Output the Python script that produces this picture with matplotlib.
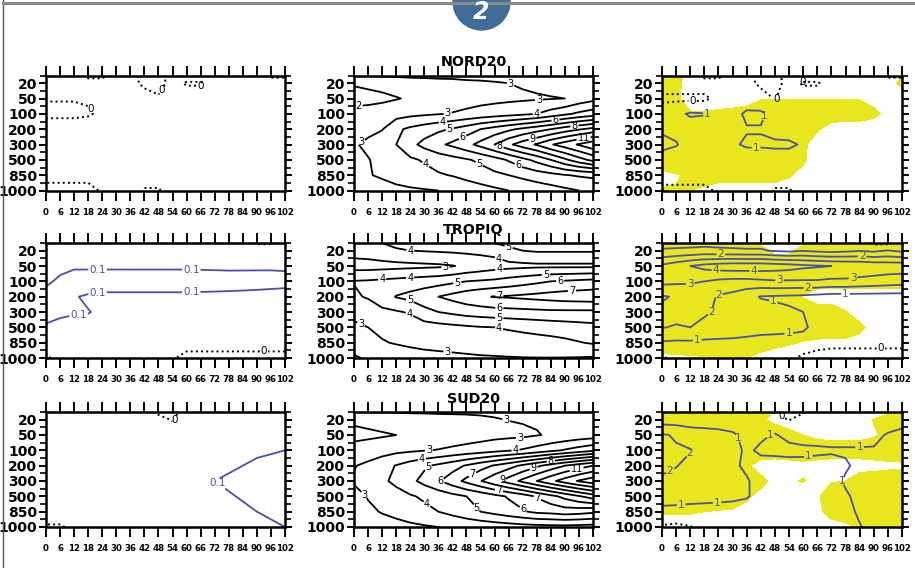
import numpy as np
import matplotlib.pyplot as plt
from matplotlib.patches import Circle
from matplotlib.lines import Line2D

plt.rcParams['font.family'] = ['DejaVu Sans']

# forecast lead time (h) and pressure levels (hPa)
lead = [0, 6, 12, 18, 24, 30, 36, 42, 48, 54, 60, 66, 72, 78, 84, 90, 96, 102]
plev = [20, 50, 100, 200, 300, 500, 850, 1000]
# every field: first row is the model top (half a level above 20 hPa), then plev

# ---- NORD20 ----
nord_l = [
    [0.05, 0.05, 0.05, -0.03, -0.03, 0.05, 0.05, -0.04, -0.04, 0.05, 0.05, 0.05, 0.05, 0.05, 0.05, 0.05, -0.02, -0.02],
    [0.05, 0.05, 0.05, 0.05, 0.05, 0.05, 0.03, -0.02, -0.03, 0.03, -0.01, -0.01, 0.05, 0.05, 0.05, 0.05, 0.05, 0.05],
    [0.005, 0.005, 0.005, 0.01, 0.04, 0.05, 0.05, 0.04, 0.01, 0.05, 0.05, 0.05, 0.05, 0.05, 0.05, 0.05, 0.05, 0.05],
    [-0.02, -0.02, -0.02, -0.01, 0.02, 0.05, 0.05, 0.05, 0.05, 0.05, 0.05, 0.05, 0.05, 0.05, 0.05, 0.05, 0.05, 0.05],
    [0.05] * 18,
    [0.05] * 18,
    [0.05] * 18,
    [0.05] * 18,
    [-0.05, -0.05, -0.05, -0.05, 0.02, 0.05, 0.05, -0.01, -0.01, 0.05, 0.05, 0.05, 0.05, 0.05, 0.05, 0.05, 0.05, 0.05],
]
nord_m = [
    [2.95, 3.05, 3.1, 3.15, 3.2, 3.2, 3.25, 3.25, 3.3, 3.3, 3.35, 3.35, 3.4, 3.4, 3.45, 3.5, 3.55, 3.6],
    [2.1, 2.2, 2.3, 2.4, 2.5, 2.6, 2.65, 2.7, 2.8, 2.85, 2.92, 3.0, 3.1, 3.2, 3.3, 3.4, 3.5, 3.6],
    [1.6, 1.7, 1.8, 1.95, 2.1, 2.25, 2.4, 2.5, 2.6, 2.7, 2.75, 2.8, 2.85, 2.9, 2.95, 3.0, 3.4, 3.7],
    [2.4, 2.4, 2.5, 2.6, 2.75, 2.85, 2.95, 3.05, 3.2, 3.35, 3.5, 3.65, 3.8, 4.0, 4.4, 4.8, 5.2, 5.5],
    [2.6, 2.75, 2.95, 3.8, 4.2, 4.5, 4.8, 5.1, 5.5, 6.0, 6.4, 6.8, 7.2, 7.6, 8.0, 8.5, 8.9, 9.3],
    [2.9, 3.2, 3.6, 4.0, 4.7, 5.3, 5.8, 6.2, 6.7, 7.3, 8.0, 8.8, 9.5, 10.1, 10.9, 11.5, 12.1, 12.7],
    [2.8, 2.95, 3.3, 3.6, 3.85, 4.1, 4.4, 4.65, 4.9, 5.2, 5.6, 6.1, 6.7, 7.3, 8.0, 8.8, 9.6, 10.3],
    [2.8, 2.95, 3.1, 3.3, 3.5, 3.7, 3.9, 4.05, 4.3, 4.55, 4.8, 5.0, 5.25, 5.5, 5.7, 5.95, 6.1, 6.2],
    [2.5, 2.6, 2.7, 2.8, 2.87, 2.93, 3.0, 3.2, 3.4, 3.6, 3.8, 4.0, 4.2, 4.4, 4.6, 4.8, 5.0, 5.2],
]
nord_r = [
    [0.5, 0.5, 0.5, -0.3, -0.3, 0.5, 0.5, -0.4, -0.4, 0.5, 0.5, 0.5, 0.5, 0.5, 0.5, 0.5, -0.2, -0.2],
    [0.5, 0.5, 0.5, 0.5, 0.5, 0.5, 0.3, -0.2, -0.3, 0.3, -0.1, -0.1, 0.5, 0.5, 0.5, 0.5, 0.5, 0.5],
    [-0.2, -0.2, -0.2, -0.2, 0.3, 0.5, 0.5, 0.4, -0.05, 0.5, 0.5, 0.5, 0.5, 0.5, 0.5, 0.5, 0.5, 0.5],
    [0.5, 0.8, 1.1, 1.05, 0.8, 0.7, 1.15, 1.15, 0.7, 0.6, 0.6, 0.5, 0.5, 0.5, 0.5, 0.5, 0.5, 0.5],
    [0.9, 0.8, 0.6, 0.6, 0.6, 0.7, 0.95, 0.95, 0.7, 0.6, 0.6, 0.5, 0.5, 0.5, 0.5, 0.5, 0.5, 0.5],
    [1.2, 1.05, 0.7, 0.6, 0.7, 0.9, 1.1, 1.1, 1.15, 1.15, 0.9, 0.6, 0.5, 0.5, 0.5, 0.5, 0.5, 0.5],
    [0.7, 0.6, 0.5, 0.5, 0.5, 0.5, 0.6, 0.6, 0.6, 0.6, 0.5, 0.5, 0.5, 0.5, 0.5, 0.5, 0.5, 0.5],
    [0.5] * 18,
    [-0.3, -0.3, -0.3, -0.3, 0.2, 0.5, 0.5, 0.5, -0.1, -0.1, 0.5, 0.5, 0.5, 0.5, 0.5, 0.5, 0.5, 0.5],
]
nord_sig = [
    [1, 1, 0, 0, 0, 0, 0, 0, 0, 0, 0, 0, 0, 0, 0, 0, 0, 0.4],
    [1, 0.8, 0, 0, 0, 0, 0, 0, 0, 0, 0, 0, 0, 0, 0, 0, 0.2, 0.7],
    [1, 0.7, 0, 0, 0, 0, 0, 0.45, 0.45, 0.45, 0.45, 0.45, 0.45, 0.45, 0.45, 0.2, 0, 0],
    [1, 1, 0.6, 0.6, 0.7, 0.8, 1, 1, 1, 1, 1, 1, 1, 1, 1, 0.7, 0.3, 0],
    [1, 1, 1, 1, 1, 1, 1, 1, 1, 1, 1, 0.6, 0.1, 0, 0, 0, 0, 0],
    [1, 1, 1, 1, 1, 1, 1, 1, 1, 1, 0.7, 0, 0, 0, 0, 0, 0, 0],
    [1, 1, 1, 1, 1, 1, 1, 1, 1, 1, 0.65, 0, 0, 0, 0, 0, 0, 0],
    [0.3, 0.45, 0.6, 1, 1, 1, 1, 1, 1, 0.6, 0.2, 0, 0, 0, 0, 0, 0, 0],
    [0.55, 0.53, 0.51, 0.3, 0, 0, 0, 0, 0, 0, 0, 0, 0, 0, 0, 0, 0, 0],
]

# ---- TROPIQ ----
trop_l = [
    [0.03] * 15 + [-0.01, -0.01, 0.03],
    [0.05] * 18,
    [0.06, 0.07, 0.07, 0.07, 0.07, 0.07, 0.07, 0.07, 0.07, 0.07, 0.07, 0.07, 0.07, 0.07, 0.075, 0.08, 0.08, 0.08],
    [0.08, 0.12, 0.20, 0.20, 0.20, 0.20, 0.20, 0.20, 0.20, 0.20, 0.20, 0.19, 0.18, 0.17, 0.16, 0.15, 0.15, 0.14],
    [0.14, 0.14, 0.11, 0.08, 0.06, 0.06, 0.06, 0.06, 0.06, 0.06, 0.06, 0.06, 0.06, 0.06, 0.06, 0.06, 0.05, 0.05],
    [0.13, 0.12, 0.11, 0.105, 0.08, 0.06] + [0.05] * 12,
    [0.09, 0.07, 0.06, 0.06] + [0.05] * 14,
    [0.05] * 9 + [0.045] + [0.04] * 8,
    [-0.01, 0.02, 0.03, 0.03, 0.03, 0.03, 0.03, 0.03, 0.03, 0.01, -0.03, -0.03, -0.03, -0.03, -0.03, -0.03, -0.03, -0.03],
]
trop_m = [
    [3.8, 3.9, 4.0, 4.2, 4.3, 4.4, 4.5, 4.6, 4.7, 4.85, 5.0, 5.2, 5.3, 5.4, 5.4, 5.5, 5.5, 5.5],
    [3.4, 3.5, 3.7, 3.9, 4.0, 4.05, 4.1, 4.15, 4.2, 4.25, 4.3, 4.8, 5.0, 5.1, 5.1, 5.1, 5.1, 5.1],
    [2.6, 2.6, 2.65, 2.7, 2.75, 2.8, 2.85, 2.95, 3.2, 3.4, 3.6, 3.7, 3.75, 3.8, 3.8, 3.8, 3.8, 3.8],
    [4.05, 4.1, 4.2, 4.3, 4.4, 4.5, 4.6, 4.8, 5.0, 5.1, 5.2, 5.4, 5.6, 5.8, 6.0, 6.1, 6.2, 6.3],
    [3.85, 4.1, 4.5, 5.05, 5.3, 5.6, 6.0, 6.3, 6.6, 6.85, 7.05, 7.1, 7.2, 7.3, 7.4, 7.5, 7.55, 7.6],
    [3.15, 3.4, 3.8, 3.9, 4.1, 4.7, 5.0, 5.2, 5.4, 5.5, 5.6, 5.65, 5.7, 5.75, 5.8, 5.8, 5.8, 5.8],
    [2.9, 3.0, 3.15, 3.3, 3.45, 3.55, 3.65, 3.75, 3.85, 3.95, 4.0, 4.1, 4.2, 4.3, 4.4, 4.5, 4.6, 4.7],
    [2.6, 2.8, 2.95, 3.05, 3.15, 3.25, 3.3, 3.35, 3.4, 3.45, 3.5, 3.55, 3.6, 3.65, 3.7, 3.8, 3.95, 4.1],
    [3.1, 2.9, 2.6, 2.6, 2.65, 2.7, 2.75, 2.8, 2.85, 2.9, 2.92, 2.95, 2.97, 2.98, 2.98, 2.97, 2.95, 2.9],
]
trop_r = [
    [0.7] * 15 + [-0.2, -0.2, 0.7],
    [1.1, 1.15, 1.2, 1.3, 1.2, 1.15, 1.1, 1.1, 0.9, 0.8, 0.95, 0.8, 0.7, 0.8, 0.95, 0.8, 1.05, 0.8],
    [3.2, 3.6, 4.0, 4.3, 4.5, 4.6, 4.6, 4.6, 4.5, 4.4, 4.2, 4.1, 4.0, 3.9, 3.8, 3.7, 3.6, 3.6],
    [3.3, 3.2, 3.1, 3.0, 2.8, 2.7, 2.7, 2.8, 2.9, 2.9, 2.9, 2.9, 2.8, 2.8, 2.7, 2.6, 2.5, 2.4],
    [1.9, 2.1, 2.5, 2.4, 1.9, 1.7, 1.3, 0.95, 0.9, 0.85, 0.8, 0.7, 0.6, 0.6, 0.6, 0.6, 0.6, 0.6],
    [2.2, 2.4, 2.3, 2.1, 1.9, 1.7, 1.5, 1.35, 1.2, 1.1, 1.0, 0.7, 0.6, 0.55, 0.5, 0.5, 0.5, 0.5],
    [2.05, 1.9, 2.0, 1.8, 1.6, 1.5, 1.4, 1.3, 1.25, 1.2, 1.15, 0.7, 0.6, 0.55, 0.5, 0.5, 0.5, 0.5],
    [0.9, 0.85, 0.85, 0.8, 0.8, 0.8, 0.75, 0.7, 0.7, 0.7, 0.6, 0.4, 0.3, 0.3, 0.3, 0.3, 0.3, 0.3],
    [-0.1, 0.2, 0.3, 0.3, 0.3, 0.3, 0.3, 0.3, 0.3, 0.2, -0.2, -0.4, -0.5, -0.5, -0.5, -0.5, -0.5, -0.5],
]
trop_sig = [
    [1, 1, 1, 1, 0.45] + [0.2] * 13,
    [1, 1, 1, 1, 1, 1, 1, 1, 0.3, 0.35, 1, 1, 1, 1, 1, 1, 1, 1],
    [1] * 18,
    [1] * 18,
    [1] * 10 + [0.45, 0, 0, 0, 0, 0, 0, 0],
    [1] * 13 + [0.55, 0.1, 0, 0, 0],
    [1] * 14 + [0.7, 0.2, 0, 0],
    [1, 1, 1, 1, 1, 1, 1, 1, 0.8, 0.6, 0.45, 0.35, 0.3, 0.3, 0.2, 0, 0, 0],
    [0.3, 0.35, 0.4, 0.45, 0.5, 0.5, 0.5, 0.2] + [0] * 10,
]

# ---- SUD20 ----
sud_l = [
    [0.05] * 8 + [-0.03, -0.03] + [0.05] * 8,
    [0.05] * 9 + [-0.01] + [0.05] * 8,
    [0.05] * 18,
    [0.05] * 15 + [0.07, 0.08, 0.1],
    [0.05] * 12 + [0.06, 0.08, 0.1, 0.13, 0.16, 0.18],
    [0.05] * 10 + [0.06, 0.08, 0.1, 0.12, 0.14, 0.16, 0.17, 0.18],
    [0.05] * 12 + [0.07, 0.09, 0.11, 0.13, 0.15, 0.16],
    [0.05] * 14 + [0.08, 0.1, 0.12, 0.14],
    [-0.01, -0.01, 0.02] + [0.05] * 12 + [0.06, 0.08, 0.1],
]
sud_m = [
    [2.98, 3.02, 3.05, 3.05, 3.08, 3.08, 3.1, 3.1, 3.1, 3.1, 3.12, 3.12, 3.15, 3.15, 3.15, 3.15, 3.12, 3.1],
    [2.2, 2.3, 2.4, 2.5, 2.6, 2.65, 2.7, 2.75, 2.8, 2.88, 2.95, 3.02, 3.08, 3.1, 3.15, 3.15, 3.2, 3.2],
    [1.7, 1.8, 1.9, 2.0, 2.1, 2.2, 2.3, 2.4, 2.5, 2.6, 2.7, 2.75, 2.8, 2.95, 3.1, 3.25, 3.4, 3.5],
    [2.4, 2.5, 2.6, 2.75, 2.85, 2.95, 3.05, 3.2, 3.35, 3.5, 3.7, 3.9, 4.1, 4.4, 4.75, 5.1, 5.45, 5.8],
    [2.95, 3.2, 3.6, 4.05, 4.45, 4.85, 5.2, 5.6, 6.1, 6.6, 7.1, 7.6, 8.2, 8.8, 9.4, 10.0, 10.5, 11.0],
    [3.1, 3.3, 3.8, 4.25, 4.75, 5.3, 5.9, 6.55, 7.25, 7.95, 8.7, 9.45, 10.25, 11.0, 11.75, 12.45, 13.1, 13.6],
    [2.7, 3.05, 3.3, 3.6, 3.9, 4.15, 4.4, 4.7, 5.0, 5.3, 5.7, 6.1, 6.5, 7.1, 7.7, 8.3, 8.9, 9.5],
    [2.6, 2.85, 3.05, 3.25, 3.5, 3.75, 4.0, 4.3, 4.65, 5.0, 5.3, 5.6, 5.9, 6.2, 6.3, 6.5, 6.4, 6.2],
    [3.05, 2.6, 2.65, 2.7, 2.8, 2.9, 3.0, 3.1, 3.2, 3.3, 3.4, 3.5, 3.6, 3.65, 3.7, 3.7, 3.65, 3.6],
]
sud_r = [
    [0.8, 0.8, 0.8, 0.8, 0.8, 0.8, 0.8, 0.8, -0.1, -0.3, -0.1, 0.6, 0.6, 0.6, 0.6, 0.6, 0.7, 0.8],
    [0.5, 0.5, 0.5, 0.5, 0.5, 0.6, 0.6, 0.5, 0.5, -0.05, 0.5, 0.6, 0.6, 0.6, 0.6, 0.6, 0.7, 0.8],
    [2.1, 1.9, 1.5, 1.4, 1.3, 1.1, 0.8, 0.9, 1.05, 0.8, 0.7, 0.75, 0.8, 0.8, 0.8, 0.85, 1.05, 1.15],
    [2.2, 2.1, 2.05, 1.6, 1.4, 1.2, 0.9, 1.1, 1.15, 1.2, 1.15, 1.1, 1.05, 1.05, 1.05, 1.05, 1.1, 1.05],
    [2.3, 2.05, 1.7, 1.5, 1.3, 1.1, 0.9, 0.8, 0.75, 0.75, 0.8, 0.8, 0.85, 0.95, 1.1, 1.15, 1.15, 1.15],
    [1.8, 1.6, 1.5, 1.4, 1.3, 1.2, 1.05, 0.8, 0.7, 0.7, 0.75, 0.8, 0.85, 1.05, 1.15, 1.2, 1.2, 1.2],
    [1.5, 1.4, 1.3, 1.25, 1.2, 1.15, 1.05, 0.8, 0.7, 0.7, 0.7, 0.75, 0.8, 0.95, 1.1, 1.15, 1.2, 1.2],
    [0.7] * 12 + [0.75, 0.9, 1.05, 1.15, 1.2, 1.2],
    [-0.1, -0.2, -0.05, 0.3, 0.5, 0.6, 0.6, 0.6, 0.6, 0.6, 0.6, 0.6, 0.7, 0.9, 0.98, 1.1, 1.2, 1.2],
]
sud_sig = [
    [1, 1, 1, 1, 1, 1, 1, 0.8, 0.45, 0, 0, 0, 0, 0, 0, 0, 0.3, 0.3],
    [1, 1, 1, 1, 1, 1, 1, 0.6, 0.3, 0, 0, 0, 0, 0, 0, 0.55, 1, 1],
    [1, 1, 1, 1, 1, 1, 1, 1, 1, 0.8, 0.5, 0.3, 0.2, 0.2, 0.2, 0.4, 0.7, 1],
    [1] * 18,
    [1, 1, 1, 1, 1, 1, 0.6, 0.2, 0.1, 0.2, 0.3, 0.2, 0.1, 0.1, 0.1, 0.2, 0.3, 0.35],
    [1, 1, 1, 1, 1, 1, 1, 0.7, 0.3, 0.4, 0.55, 0.3, 0.45, 0.5, 1, 1, 1, 1],
    [1, 1, 1, 1, 1, 1, 0.6, 0.3, 0, 0, 0, 0.4, 0.9, 1, 1, 1, 1, 1],
    [0.6, 0.6, 0.6, 0.5, 0.45, 0.4, 0.3, 0, 0, 0, 0, 0.3, 0.8, 1, 1, 1, 1, 1],
    [0] * 12 + [0.2, 0.3, 0.6, 1, 1, 1],
]

regions = ['NORD20', 'TROPIQ', 'SUD20']
left_fields = [nord_l, trop_l, sud_l]
mid_fields = [nord_m, trop_m, sud_m]
right_fields = [nord_r, trop_r, sud_r]
sig_fields = [nord_sig, trop_sig, sud_sig]

# where the contour labels sit (lead, level index)
left_zero_at = [[(20, 1.6), (50, 0.5), (66, 0.2)], [(93, 6.55)], [(57, 0.2)]]
left_blue_at = [[], [(22, 1.2), (62, 1.2), (22, 2.75), (62, 2.75), (14, 4.3)],
                [(73, 4.2)]]
mid_at = [
    [(67, 0), (79, 1.3), (40, 2.0), (2, 1.6), (3, 3.8), (31, 5.2), (53, 5.4),
     (70, 5.4), (38, 2.6), (41, 3.1), (46, 3.4), (78, 2.0), (86, 2.4),
     (94, 2.7), (76, 3.5), (62, 4.2), (98, 3.6)],
    [(66, -0.25), (24, 0.05), (62, 0.4), (12, 1.8), (39, 1.0), (24, 1.8),
     (62, 1.2), (44, 2.0), (82, 1.75), (88, 2.0), (93, 2.6),
     (62, 2.9), (62, 3.8), (62, 4.4), (62, 5.0), (24, 3.2), (24, 4.0),
     (3, 4.8), (40, 6.5)],
    [(65, 0), (71, 1.5), (32, 2.07), (69, 2.07), (29, 2.6), (31, 3.0),
     (32, 5.3), (54, 5.5), (73, 5.6), (78, 5.2), (37, 4.0), (50, 3.4),
     (84, 2.7), (63, 3.9), (77, 3.3), (95, 3.2), (5, 4.8), (62, 4.5)],
]
right_zero_at = [[(13, 1.8), (49, 1.1), (60, 0)], [(93, 6.35)], [(50, 0.0)]]
right_blue_at = [
    [(20, 2.2), (46, 2.3), (40, 3.9)],
    [(25, 0.3), (23, 1.1), (39, 1.36), (50, 1.9), (81, 1.5), (12, 2.5),
     (23, 2.6), (62, 2.4), (78, 2.9), (47, 3.5), (25, 4.6), (54, 5.7),
     (15, 5.9), (85, 0.5)],
    [(32, 1.2), (46, 1.0), (3, 3.2), (16, 2.8), (23, 4.3), (8, 5.3),
     (62, 2.1), (84, 1.9), (72, 3.8)],
]

BLUE = '#4b50a8'
YELLOW = '#e8e61c'
W, H = 915, 568

fig = plt.figure(figsize=(W / 100, H / 100), dpi=100)

col_left = [46, 354, 662]
col_w = [239, 239, 240]
row_top = [75.5, 243, 412]
ax_h = 115

ypos = [-0.5] + list(range(len(plev)))
X, Y = np.meshgrid(lead, ypos)


def make_axes(r, c):
    ax = fig.add_axes([col_left[c] / W, 1 - (row_top[r] + ax_h) / H,
                       col_w[c] / W, ax_h / H])
    ax.set_xlim(0, 102)
    ax.set_ylim(7, -0.5)
    ax.set_xticks(lead)
    ax.set_xticklabels([str(v) for v in lead], fontsize=6.2, fontweight='bold')
    ax.set_yticks(range(len(plev)))
    ax.set_yticklabels([str(p) for p in plev], fontsize=10, fontweight='bold')
    ax.set_yticks(np.arange(-0.5, 7, 1), minor=True)
    ax.tick_params(axis='x', which='major', direction='out', length=7.5,
                   width=1.4, top=True, pad=5)
    ax.tick_params(axis='y', which='major', direction='out', length=5,
                   width=1.4, right=True, pad=1.5)
    ax.tick_params(axis='y', which='minor', direction='out', length=4,
                   width=1.2, right=True)
    for sp in ax.spines.values():
        sp.set_linewidth(1.8)
    return ax


def fmt_level(v):
    return '0' if v == 0 else f'{v:g}'


def add_lines(ax, z, levels, color, ls, lw, size, where):
    z = np.asarray(z, dtype=float)
    levels = [v for v in levels if z.min() < v < z.max()]
    if not levels:
        return
    cs = ax.contour(X, Y, z, levels=levels, colors=color, linestyles=ls,
                    linewidths=lw)
    if where:
        ax.clabel(cs, fmt=fmt_level, fontsize=size, inline=True,
                  inline_spacing=1, manual=where)
        # labels stay upright, as on the printed figure
        for t in cs.labelTexts:
            t.set_rotation(0)


for r in range(3):
    # spread of the ensemble (left)
    ax = make_axes(r, 0)
    add_lines(ax, left_fields[r], [0], 'k', ':', 1.4, 7.5, left_zero_at[r])
    add_lines(ax, left_fields[r], [0.1], BLUE, '-', 1.3, 7.5, left_blue_at[r])

    # mean error (middle)
    ax = make_axes(r, 1)
    add_lines(ax, mid_fields[r], list(range(2, 14)), 'k', '-', 1.3, 7,
              mid_at[r])
    fig.text((col_left[1] + col_w[1] / 2) / W, 1 - (row_top[r] - 13) / H,
             regions[r], ha='center', va='center', fontsize=10.3,
             fontweight='bold')

    # difference with significance shading (right)
    ax = make_axes(r, 2)
    ax.contourf(X, Y, np.asarray(sig_fields[r], dtype=float),
                levels=[0.5, 2], colors=[YELLOW])
    add_lines(ax, right_fields[r], [0], 'k', ':', 1.4, 7.5, right_zero_at[r])
    add_lines(ax, right_fields[r], [1, 2, 3, 4], BLUE, '-', 1.3, 7.5,
              right_blue_at[r])

# page frame and figure number badge
fig.add_artist(Line2D([3 / W, 3 / W], [0, 1], color='#555555', lw=1.0,
                      transform=fig.transFigure))
fig.add_artist(Line2D([3 / W, 1], [1 - 2.5 / H, 1 - 2.5 / H], color='#8a8a8a',
                      lw=2.2, transform=fig.transFigure))
fig.add_artist(Circle((4.815, H / 100 - 0.015), 0.285, color='#3e6e96',
                      transform=fig.dpi_scale_trans))
fig.text(481.5 / W, 1 - 19 / H, '2', color='white', fontsize=17,
         fontweight='bold', ha='center', va='baseline', style='italic')

fig.savefig('out.png', dpi=100)
